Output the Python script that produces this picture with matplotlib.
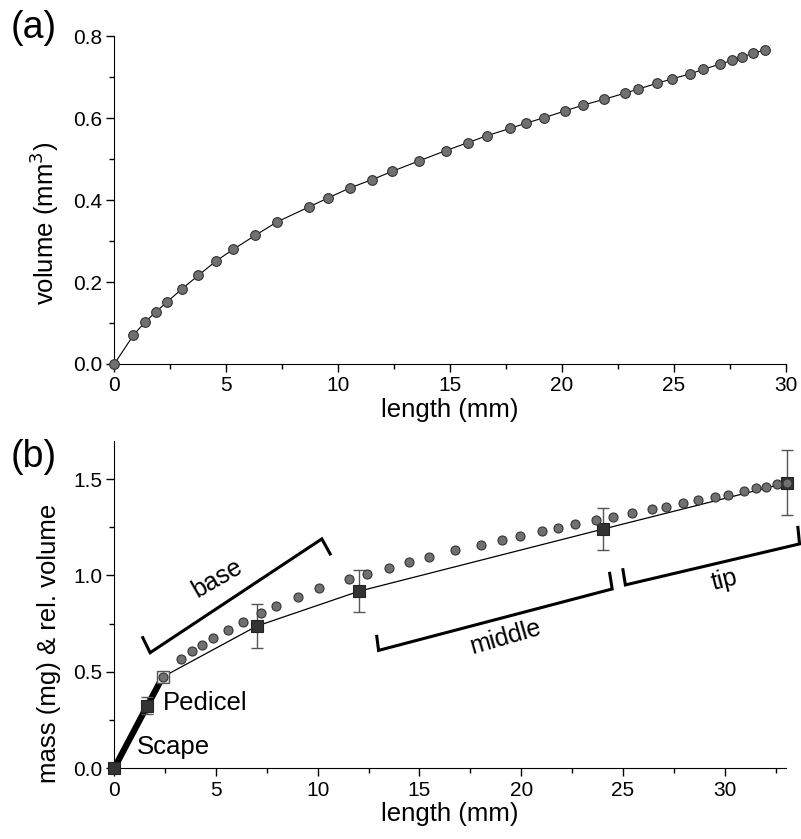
import numpy as np
import matplotlib.pyplot as plt
from matplotlib.ticker import MultipleLocator

plt.rcParams['font.family'] = ['Liberation Sans', 'DejaVu Sans']

# (a) volume along the antenna
len_a = [0, 0.85, 1.37, 1.86, 2.37, 3.04, 3.75, 4.54, 5.32, 6.30, 7.28, 8.69, 9.54,
         10.54, 11.52, 12.41, 13.63, 14.82, 15.79, 16.64, 17.68, 18.41, 19.20, 20.15,
         20.96, 21.88, 22.81, 23.41, 24.24, 24.92, 25.72, 26.32, 27.06, 27.61, 28.06,
         28.55, 29.06]
vol_a = [0, 0.070, 0.102, 0.127, 0.152, 0.184, 0.216, 0.251, 0.280, 0.314, 0.347, 0.383,
         0.405, 0.430, 0.450, 0.470, 0.496, 0.521, 0.540, 0.557, 0.575, 0.588, 0.601,
         0.618, 0.632, 0.646, 0.661, 0.671, 0.685, 0.696, 0.708, 0.719, 0.732, 0.741,
         0.750, 0.758, 0.767]

# (b) mass of segments and relative volume
len_mass = [0, 1.62, 2.38, 7.0, 12.02, 24.02, 33.04]
mass = [0, 0.323, 0.473, 0.737, 0.918, 1.241, 1.481]
mass_err = [0, 0.045, 0.02, 0.115, 0.109, 0.109, 0.169]

len_b = [2.38, 3.28, 3.82, 4.33, 4.87, 5.58, 6.35, 7.20, 7.97, 9.02, 10.07, 11.53, 12.43,
         13.50, 14.50, 15.46, 16.76, 18.00, 19.05, 19.92, 21.04, 21.81, 22.66, 23.66,
         24.51, 25.46, 26.45, 27.10, 27.96, 28.70, 29.53, 30.17, 30.96, 31.53, 32.02,
         32.55, 33.04]
relvol_b = [0.473, 0.568, 0.608, 0.640, 0.675, 0.716, 0.759, 0.804, 0.844, 0.889, 0.936,
            0.980, 1.006, 1.041, 1.068, 1.094, 1.131, 1.160, 1.186, 1.207, 1.233, 1.248,
            1.265, 1.288, 1.305, 1.326, 1.345, 1.358, 1.377, 1.391, 1.407, 1.419, 1.440,
            1.452, 1.462, 1.474, 1.481]

# section brackets: (tick end, corner, corner, tick end)
brackets = {
    'base':   ([1.40, 1.76, 10.20, 10.61], [0.677, 0.599, 1.190, 1.112]),
    'middle': ([12.90, 12.99, 24.47, 24.35], [0.684, 0.611, 0.930, 1.011]),
    'tip':    ([25.00, 25.12, 33.68, 33.60], [1.030, 0.951, 1.164, 1.250]),
}
bracket_labels = {'base': (5.07, 0.987, 30), 'middle': (19.22, 0.677, 16), 'tip': (29.99, 0.974, 14)}

circ_face = '#707070'
circ_edge = '#333333'
sq_face = '#333333'

fig = plt.figure(figsize=(8.01, 8.39), dpi=100)
ax1 = fig.add_axes([0.1427, 0.5662, 0.8382, 0.3906])
ax2 = fig.add_axes([0.1427, 0.0846, 0.8382, 0.3901])


def style(ax):
    for s in ['top', 'right']:
        ax.spines[s].set_visible(False)
    ax.tick_params(which='major', direction='out', length=6, width=1, labelsize=15)
    ax.tick_params(which='minor', direction='out', length=3.5, width=1)
    ax.tick_params(axis='x', pad=3)
    ax.tick_params(axis='y', pad=2.5)


# panel (a)
ax1.plot(len_a, vol_a, '-', color='black', lw=0.8, marker='o', ms=7,
         mfc=circ_face, mec=circ_edge, mew=0.8, clip_on=False, zorder=3)
ax1.set_xlim(0, 30)
ax1.set_ylim(0, 0.8)
ax1.xaxis.set_major_locator(MultipleLocator(5))
ax1.xaxis.set_minor_locator(MultipleLocator(2.5))
ax1.yaxis.set_major_locator(MultipleLocator(0.2))
ax1.yaxis.set_minor_locator(MultipleLocator(0.1))
ax1.yaxis.set_major_formatter(plt.FormatStrFormatter('%.1f'))
style(ax1)
ax1.set_xlabel('length (mm)', fontsize=18.5, labelpad=2)
ax1.set_ylabel('volume (mm$^3$)', fontsize=18.5, labelpad=9, y=0.43)
fig.text(0.013, 0.967, '(a)', fontsize=27, va='center', ha='left')

# panel (b)
ax2.plot(len_mass[:3], mass[:3], '-', color='black', lw=4.5, solid_capstyle='butt', zorder=2)
ax2.plot(len_mass[2:], mass[2:], '-', color='black', lw=0.9, zorder=2)
ax2.errorbar(len_mass, mass, yerr=mass_err, fmt='none', ecolor='#555555', elinewidth=1,
             capsize=4, capthick=1, zorder=3, clip_on=False)
sq_idx = [0, 1, 3, 4, 5, 6]
ax2.plot([len_mass[i] for i in sq_idx], [mass[i] for i in sq_idx], 's', ms=9,
         mfc=sq_face, mec='#222222', mew=0.8, clip_on=False, zorder=4)
ax2.plot(len_mass[2], mass[2], 's', ms=9, mfc='#e8e8e8', mec='#555555', mew=1,
         clip_on=False, zorder=4)
ax2.plot(len_b, relvol_b, 'o', ms=6.5, mfc=circ_face, mec=circ_edge, mew=0.8,
         clip_on=False, zorder=5)

for name, (bx, by) in brackets.items():
    ax2.plot(bx, by, '-', color='black', lw=2.2, clip_on=False, solid_joinstyle='miter')
    tx, ty, rot = bracket_labels[name]
    ax2.text(tx, ty, name, fontsize=18, rotation=rot, ha='center', va='center',
             rotation_mode='anchor')

ax2.text(2.38, 0.337, 'Pedicel', fontsize=18.5, ha='left', va='center')
ax2.text(1.13, 0.110, 'Scape', fontsize=18.5, ha='left', va='center')

ax2.set_xlim(0, 33)
ax2.set_ylim(0, 1.7)
ax2.xaxis.set_major_locator(MultipleLocator(5))
ax2.xaxis.set_minor_locator(MultipleLocator(2.5))
ax2.yaxis.set_major_locator(MultipleLocator(0.5))
ax2.yaxis.set_minor_locator(MultipleLocator(0.25))
ax2.yaxis.set_major_formatter(plt.FormatStrFormatter('%.1f'))
style(ax2)
ax2.set_xlabel('length (mm)', fontsize=18.5, labelpad=2)
ax2.set_ylabel('mass (mg) & rel. volume', fontsize=18.5, labelpad=9, y=0.382)
fig.text(0.013, 0.455, '(b)', fontsize=27, va='center', ha='left')

fig.savefig('out.png', dpi=100)
